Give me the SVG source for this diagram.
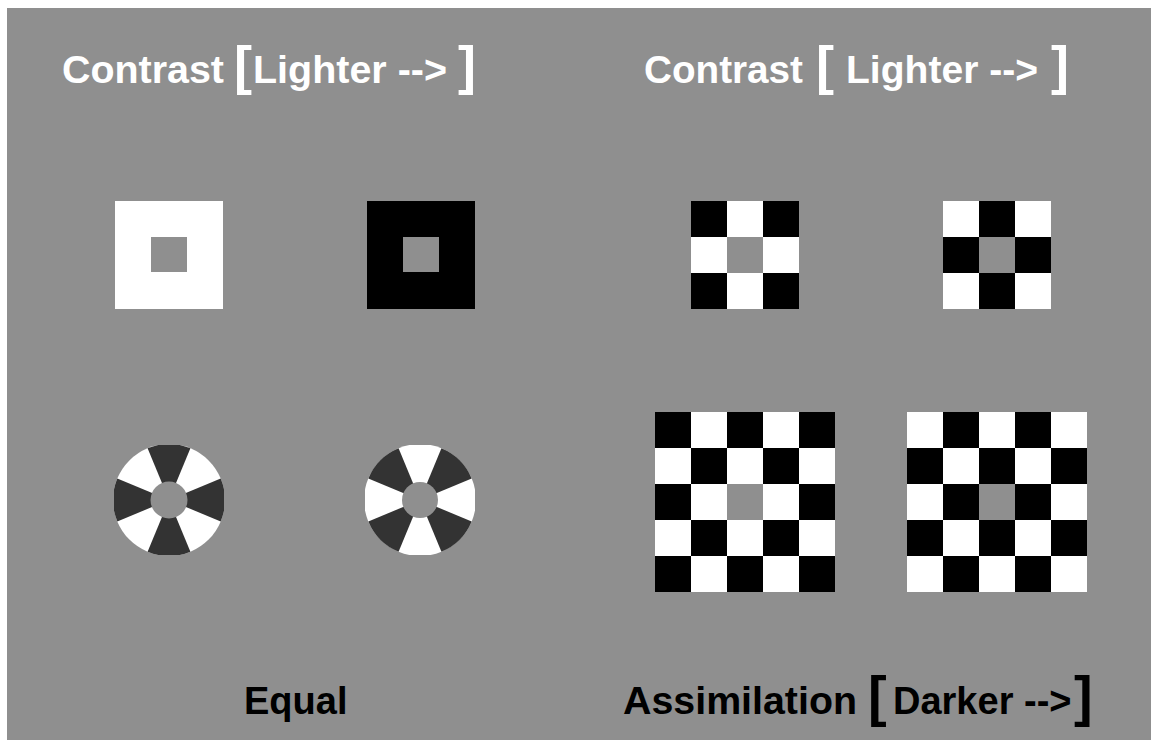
<svg xmlns="http://www.w3.org/2000/svg" xmlns:xlink="http://www.w3.org/1999/xlink" width="1151" height="740" viewBox="0 0 1151 740">
<style>
.t{font-family:"Liberation Sans",Arial,Helvetica,sans-serif;font-weight:bold;font-size:38px}
.w{fill:#ffffff}
.k{fill:#000000}
.g{fill:#8f8f8f}
.d{fill:#333333}
.br{font-family:"Liberation Sans",Arial,Helvetica,sans-serif;font-weight:bold;font-size:54px}
</style>
<defs>
<clipPath id="wc"><rect x="-55" y="-55" width="110" height="110"/></clipPath>
<path id="sec" d="M0,0 L-21.4,-51.7 A56,56 0 0 1 21.4,-51.7 Z"/>
</defs>
<rect x="0" y="0" width="1151" height="740" fill="#ffffff"/>
<rect x="7" y="8" width="1144" height="732" class="g"/>

<g id="title-left">
<text class="t w" x="62" y="83" textLength="162" lengthAdjust="spacingAndGlyphs">Contrast</text>
<text class="br w" x="234" y="83.5">[</text>
<text class="t w" x="253" y="83" textLength="194" lengthAdjust="spacingAndGlyphs">Lighter --&gt;</text>
<text class="br w" x="458" y="83.5">]</text>
</g>
<g id="title-right">
<text class="t w" x="644" y="83" textLength="159" lengthAdjust="spacingAndGlyphs">Contrast</text>
<text class="br w" x="816" y="83.5">[</text>
<text class="t w" x="846" y="83" textLength="192" lengthAdjust="spacingAndGlyphs">Lighter --&gt;</text>
<text class="br w" x="1051" y="83.5">]</text>
</g>

<g id="sq-white">
<rect x="115" y="201" width="108" height="108" class="w"/>
<rect x="151" y="237" width="36" height="35" class="g"/>
</g>
<g id="sq-black">
<rect x="367" y="201" width="108" height="108" class="k"/>
<rect x="403" y="237" width="36" height="35" class="g"/>
</g>

<g id="wheel-left" transform="translate(169,500)">
<g clip-path="url(#wc)">
<circle r="56" class="w"/>
<use xlink:href="#sec" class="d"/>
<use xlink:href="#sec" class="d" transform="rotate(90)"/>
<use xlink:href="#sec" class="d" transform="rotate(180)"/>
<use xlink:href="#sec" class="d" transform="rotate(270)"/>
</g>
<circle r="18.5" class="g"/>
</g>
<g id="wheel-right" transform="translate(420,500)">
<g clip-path="url(#wc)">
<circle r="56" class="w"/>
<use xlink:href="#sec" class="d" transform="rotate(45)"/>
<use xlink:href="#sec" class="d" transform="rotate(135)"/>
<use xlink:href="#sec" class="d" transform="rotate(225)"/>
<use xlink:href="#sec" class="d" transform="rotate(315)"/>
</g>
<circle r="18" class="g"/>
</g>

<g id="check-small-left" transform="translate(691,201)">
<rect width="108" height="108" class="w"/>
<rect x="0" y="0" width="36" height="36" class="k"/>
<rect x="72" y="0" width="36" height="36" class="k"/>
<rect x="0" y="72" width="36" height="36" class="k"/>
<rect x="72" y="72" width="36" height="36" class="k"/>
<rect x="36" y="36" width="36" height="36" class="g"/>
</g>
<g id="check-small-right" transform="translate(943,201)">
<rect width="108" height="108" class="w"/>
<rect x="36" y="0" width="36" height="36" class="k"/>
<rect x="0" y="36" width="36" height="36" class="k"/>
<rect x="72" y="36" width="36" height="36" class="k"/>
<rect x="36" y="72" width="36" height="36" class="k"/>
<rect x="36" y="36" width="36" height="36" class="g"/>
</g>

<g id="check-large-left" transform="translate(655,412)">
<rect width="180" height="180" class="w"/>
<rect x="0" y="0" width="36" height="36" class="k"/>
<rect x="72" y="0" width="36" height="36" class="k"/>
<rect x="144" y="0" width="36" height="36" class="k"/>
<rect x="36" y="36" width="36" height="36" class="k"/>
<rect x="108" y="36" width="36" height="36" class="k"/>
<rect x="0" y="72" width="36" height="36" class="k"/>
<rect x="144" y="72" width="36" height="36" class="k"/>
<rect x="36" y="108" width="36" height="36" class="k"/>
<rect x="108" y="108" width="36" height="36" class="k"/>
<rect x="0" y="144" width="36" height="36" class="k"/>
<rect x="72" y="144" width="36" height="36" class="k"/>
<rect x="144" y="144" width="36" height="36" class="k"/>
<rect x="72" y="72" width="36" height="36" class="g"/>
</g>
<g id="check-large-right" transform="translate(907,412)">
<rect width="180" height="180" class="w"/>
<rect x="36" y="0" width="36" height="36" class="k"/>
<rect x="108" y="0" width="36" height="36" class="k"/>
<rect x="0" y="36" width="36" height="36" class="k"/>
<rect x="72" y="36" width="36" height="36" class="k"/>
<rect x="144" y="36" width="36" height="36" class="k"/>
<rect x="36" y="72" width="36" height="36" class="k"/>
<rect x="108" y="72" width="36" height="36" class="k"/>
<rect x="0" y="108" width="36" height="36" class="k"/>
<rect x="72" y="108" width="36" height="36" class="k"/>
<rect x="144" y="108" width="36" height="36" class="k"/>
<rect x="36" y="144" width="36" height="36" class="k"/>
<rect x="108" y="144" width="36" height="36" class="k"/>
<rect x="72" y="72" width="36" height="36" class="g"/>
</g>

<g id="label-equal">
<text class="t k" x="244" y="714">Equal</text>
</g>
<g id="label-assimilation">
<text class="t k" x="623" y="714" textLength="234" lengthAdjust="spacingAndGlyphs">Assimilation</text>
<text class="br k" x="868" y="715" style="font-size:56px">[</text>
<text class="t k" x="893" y="714">Darker --&gt;</text>
<text class="br k" x="1074" y="715" style="font-size:56px">]</text>
</g>
</svg>
